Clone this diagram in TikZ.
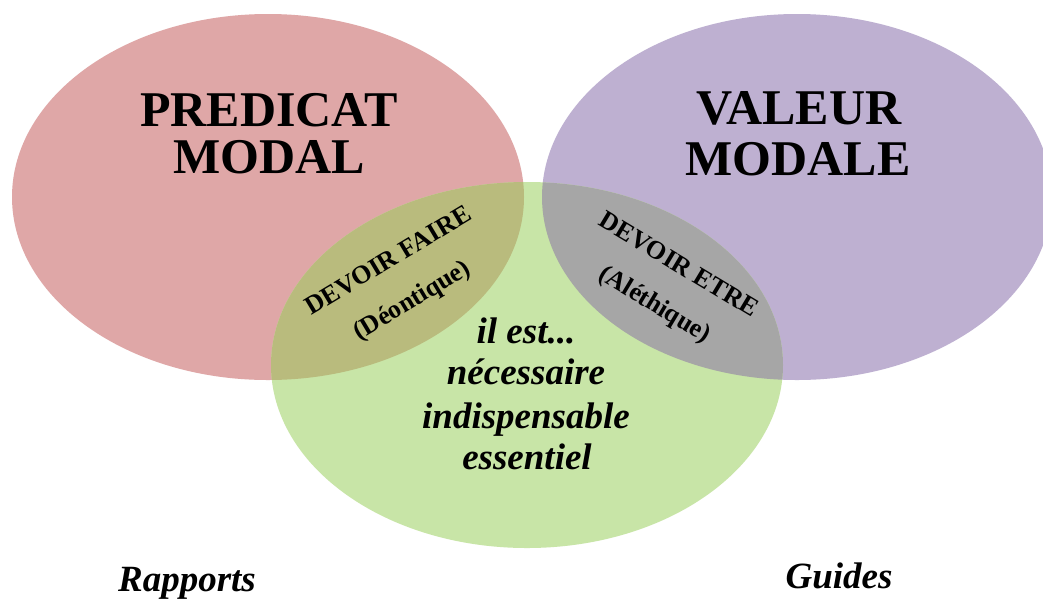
\documentclass[tikz,border=0pt]{standalone}
\usepackage{fontspec}
\setmainfont{Liberation Serif}
\definecolor{cred}{HTML}{DFA7A7}
\definecolor{cpurple}{HTML}{BEB0D1}
\definecolor{cgreen}{HTML}{C8E5A7}
\definecolor{colive}{HTML}{B9BB7D}
\definecolor{cgray}{HTML}{A6A6A6}
\tikzset{
  big/.style={font=\fontsize{50}{50}\selectfont\bfseries, inner sep=0pt},
  mid/.style={font=\fontsize{37}{37}\selectfont\bfseries\itshape, inner sep=0pt},
  small/.style={font=\fontsize{26}{46}\selectfont\bfseries, inner sep=0pt, align=center},
}
\begin{document}
\begin{tikzpicture}[x=1pt,y=-1pt]
\useasboundingbox (0,0) rectangle (1043,598);
\fill[white] (0,0) rectangle (1043,598);
% circles
\fill[cred] (268,197) ellipse [x radius=256, y radius=183];
\fill[cpurple] (797,197) ellipse [x radius=255, y radius=183];
\fill[cgreen] (527,365) ellipse [x radius=256, y radius=183];
\begin{scope}
  \clip (268,197) ellipse [x radius=256, y radius=183];
  \fill[colive] (527,365) ellipse [x radius=256, y radius=183];
\end{scope}
\begin{scope}
  \clip (797,197) ellipse [x radius=255, y radius=183];
  \fill[cgray] (527,365) ellipse [x radius=256, y radius=183];
\end{scope}
% titles
\node[big, anchor=base] (pred1) at (269,126) {PREDICAT};
\node[big, anchor=base] (pred2) at (269,173) {MODAL};
\node[big, anchor=base] (val1) at (799,124) {VALEUR};
\node[big, anchor=base] (val2) at (798,175) {MODALE};
% intersections
\node[small, rotate=31] (df) at (401,282) {DEVOIR FAIRE\\(Déontique)};
\node[small, rotate=-31] (de) at (666,286) {DEVOIR ETRE\\(Aléthique)};
% center
\node[mid, anchor=base] (c1) at (526,343) {il est...};
\node[mid, anchor=base] (c2) at (526,384) {nécessaire};
\node[mid, anchor=base] (c3) at (526,428) {indispensable};
\node[mid, anchor=base] (c4) at (527,469) {essentiel};
% bottom
\node[mid, anchor=base] (rap) at (187,591) {Rapports};
\node[mid, anchor=base] (gui) at (839,588) {Guides};
\end{tikzpicture}
\end{document}
